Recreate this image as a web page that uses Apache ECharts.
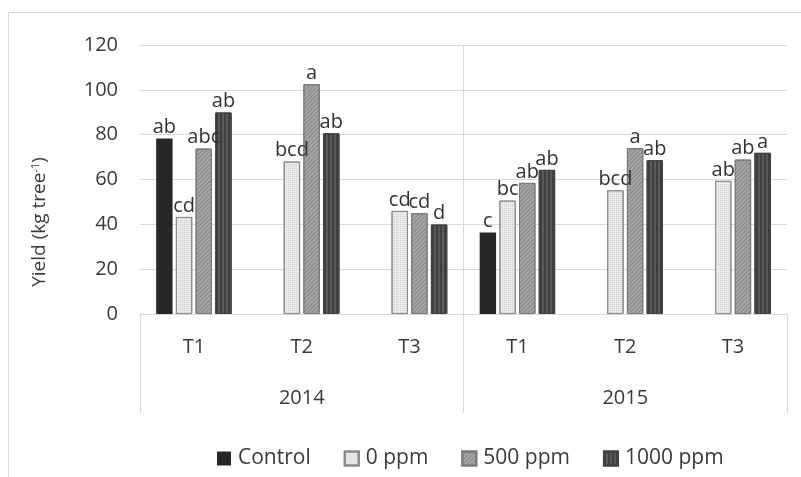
<!DOCTYPE html>
<html>
<head>
<meta charset="utf-8">
<script src="https://cdn.jsdelivr.net/npm/echarts@6/dist/echarts.min.js"></script>
<style>
  html, body { margin: 0; padding: 0; background: #fff; }
  #chart { width: 801px; height: 477px; }
</style>
</head>
<body>
<div id="chart"></div>
<script>
// Treatment groups on the inner axis, seasons on the outer axis
const treatments = ['T1', 'T2', 'T3', 'T1', 'T2', 'T3'];
const years = ['2014', '2015'];
const yTicks = { min: 0, max: 120, interval: 20 };

// Yield (kg per tree) for each dose; null where no control was grown
const controlYield = [78.3, null, null, 36.4, null, null];
const ppm0Yield = [43.3, 68.0, 46.0, 50.6, 55.2, 59.4];
const ppm500Yield = [73.8, 102.5, 45.0, 58.5, 74.0, 68.9];
const ppm1000Yield = [89.9, 80.6, 39.9, 64.3, 68.6, 71.9];

// Mean separation letters
const controlLetters = ['ab', '', '', 'c', '', ''];
const ppm0Letters = ['cd', 'bcd', 'cd', 'bc', 'bcd', 'ab'];
const ppm500Letters = ['abc', 'a', 'cd', 'ab', 'a', 'ab'];
const ppm1000Letters = ['ab', 'ab', 'd', 'ab', 'ab', 'a'];

const FONT = '"Open Sans", "Noto Sans", sans-serif';
const TEXT = '#3a3a3a';
const RULE = '#d9d9d9';

const chart = echarts.init(document.getElementById('chart'), null, { renderer: 'canvas' });

function barSeries(name, values, letters, fill, border, decal) {
  return {
    name: name,
    type: 'bar',
    xAxisIndex: 0,
    yAxisIndex: 0,
    data: values,
    barGap: '20%',
    barCategoryGap: '30%',
    itemStyle: {
      color: fill,
      borderColor: border,
      borderWidth: border ? 1 : 0,
      decal: decal
    },
    label: {
      show: true,
      position: 'top',
      distance: 1,
      fontFamily: FONT,
      fontSize: 20,
      color: '#333',
      formatter: p => letters[p.dataIndex]
    }
  };
}

const option = {
  animation: false,
  backgroundColor: '#fff',
  aria: { enabled: true, decal: { show: true } },
  textStyle: { fontFamily: FONT },
  grid: { left: 140, right: 14, top: 45, bottom: 163, containLabel: false },
  legend: {
    left: 212,
    top: 443,
    itemWidth: 14,
    itemHeight: 14,
    itemGap: 33,
    icon: 'rect',
    textStyle: { fontFamily: FONT, fontSize: 21, color: TEXT, padding: [0, 0, 0, 2] },
    data: ['Control', '0 ppm', '500 ppm', '1000 ppm']
  },
  xAxis: [
    {
      type: 'category',
      data: treatments,
      position: 'bottom',
      axisLine: { show: true, lineStyle: { color: RULE, width: 1 } },
      axisTick: { show: false },
      axisLabel: { interval: 0, margin: 23, fontFamily: FONT, fontSize: 20, color: TEXT },
      splitLine: { show: false }
    },
    {
      type: 'category',
      data: years,
      position: 'bottom',
      axisLine: { show: false },
      axisTick: { show: true, interval: 0, length: 99, lineStyle: { color: RULE } },
      axisLabel: { interval: 0, margin: 74, fontFamily: FONT, fontSize: 20, color: TEXT },
      splitLine: { show: false }
    },
    {
      // helper scale measured in seasons, used for the season divider
      type: 'value',
      min: 0,
      max: years.length,
      show: false
    }
  ],
  yAxis: {
    type: 'value',
    min: yTicks.min,
    max: yTicks.max,
    interval: yTicks.interval,
    axisLine: { show: false },
    axisTick: { show: false },
    axisLabel: { margin: 22, fontFamily: FONT, fontSize: 20, color: TEXT },
    splitLine: { lineStyle: { color: RULE, width: 1 } }
  },
  series: [
    barSeries('Control', controlYield, controlLetters, '#262626', null,
      { color: 'rgba(0,0,0,0)' }),
    barSeries('0 ppm', ppm0Yield, ppm0Letters, '#ebebeb', '#8a8a8a',
      { symbol: 'rect', symbolSize: 1, dashArrayX: [1, 1], dashArrayY: [1, 1], color: 'rgba(110,110,110,0.22)' }),
    barSeries('500 ppm', ppm500Yield, ppm500Letters, '#a6a6a6', '#7a7a7a',
      { symbol: 'rect', symbolSize: 1, dashArrayX: [1, 0], dashArrayY: [1, 2], rotation: -Math.PI / 4, color: 'rgba(60,60,60,0.3)' }),
    barSeries('1000 ppm', ppm1000Yield, ppm1000Letters, '#5a5a5a', '#404040',
      { symbol: 'rect', symbolSize: 1, dashArrayX: [2, 2], dashArrayY: [1, 0], color: 'rgba(30,30,30,0.45)' }),
    {
      // season divider drawn on the helper scale
      type: 'line',
      xAxisIndex: 2,
      yAxisIndex: 0,
      data: [],
      silent: true,
      markLine: {
        silent: true,
        symbol: 'none',
        label: { show: false },
        lineStyle: { color: RULE, type: 'solid', width: 1 },
        data: [{ xAxis: 1 }]
      }
    }
  ],
  graphic: [
    {
      type: 'rect',
      shape: { x: 8.5, y: 12.5, width: 820, height: 500 },
      style: { fill: null, stroke: RULE, lineWidth: 1 },
      silent: true,
      z: -10
    },
    {
      type: 'text',
      x: 40,
      y: 222,
      rotation: Math.PI / 2,
      style: {
        text: 'Yield (kg tree{sup|-1})',
        fontFamily: FONT,
        fontSize: 19,
        fill: TEXT,
        align: 'center',
        verticalAlign: 'middle',
        rich: {
          sup: { fontSize: 11, fontFamily: FONT, fill: TEXT, verticalAlign: 'top', padding: [0, 0, 7, 0] }
        }
      }
    }
  ]
};

chart.setOption(option);
</script>
</body>
</html>
